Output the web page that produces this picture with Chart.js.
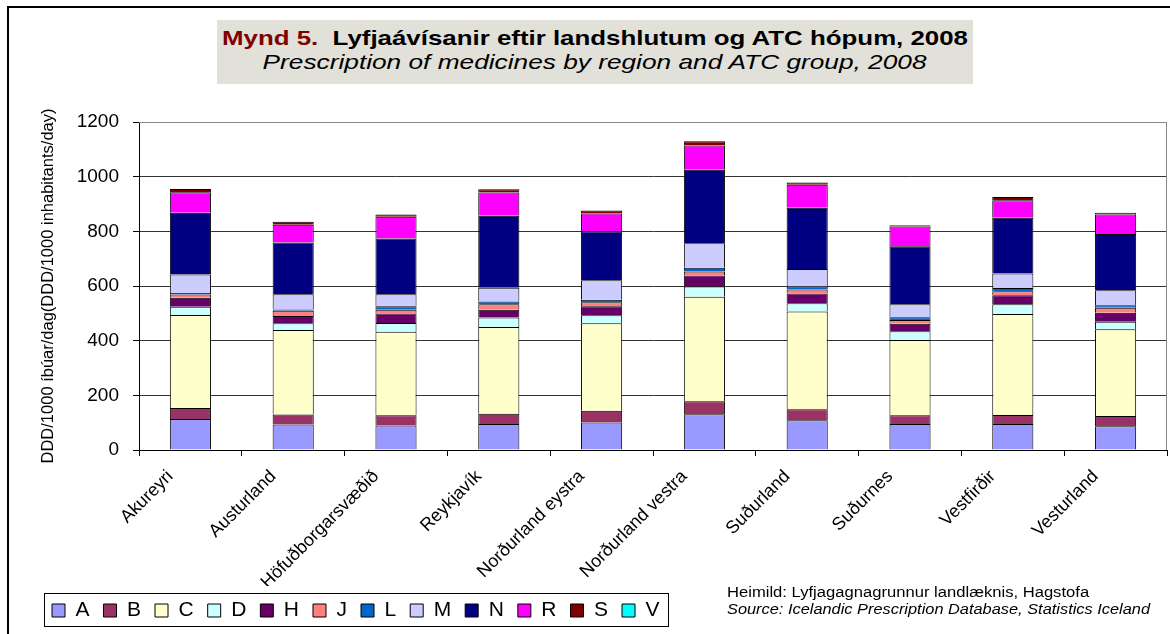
<!DOCTYPE html>
<html>
<head>
<meta charset="utf-8">
<script src="https://cdn.jsdelivr.net/npm/chart.js@4.4.1/dist/chart.umd.min.js"></script>
<style>
    body { margin: 0; background: #fff; }
    #wrap { position: relative; width: 1170px; height: 634px; overflow: hidden; font-family: 'Liberation Sans', Arial, sans-serif; }
    #frame { position: absolute; left: 7px; top: 6px; width: 1200px; height: 700px; border-left: 2px solid #000; border-top: 2px solid #000; }
    #chart { position: absolute; left: 0; top: 0; }
    #titleBox { position: absolute; left: 217px; top: 20px; width: 756px; height: 64px; background: #e1e1da; }
    .line { position: absolute; text-align: center; white-space: nowrap; }
    .line span.fit { display: inline-block; transform-origin: center center; }
    #t1 { font-size: 21px; font-weight: bold; color: #000; }
    #t1 .red { color: #800000; }
    #t2 { font-size: 21px; font-style: italic; color: #000; }
    #source { position: absolute; left: 727px; top: 584px; font-size: 14px; color: #000; white-space: nowrap; }
    #source span.fit { display: inline-block; transform-origin: left center; }
</style>
</head>
<body>
<div id="wrap">
    <div id="frame"></div>
    <canvas id="chart" width="1170" height="634"></canvas>
    <div id="titleBox"></div>
    <div class="line" id="t1" style="left:217px;width:756px;top:26px;line-height:24px;"><span class="fit" data-w="746"><span class="red">Mynd 5.</span>&nbsp; Lyfjaávísanir eftir landshlutum og ATC hópum, 2008</span></div>
    <div class="line" id="t2" style="left:217px;width:756px;top:50px;line-height:24px;"><span class="fit" data-w="664">Prescription of medicines by region and ATC group, 2008</span></div>
    <div id="source">
        <div style="line-height:17px;"><span class="fit" data-w="362">Heimild: Lyfjagagnagrunnur landlæknis, Hagstofa</span></div>
        <div style="line-height:17px;font-style:italic;"><span class="fit" data-w="423">Source: Icelandic Prescription Database, Statistics Iceland</span></div>
    </div>
</div>
<script>
// Regions (x axis categories)
const regions = ['Akureyri', 'Austurland', 'Höfuðborgarsvæðið', 'Reykjavík', 'Norðurland eystra',
    'Norðurland vestra', 'Suðurland', 'Suðurnes', 'Vestfirðir', 'Vesturland'];

// ATC groups, DDD/1000 inhabitants/day
const atcA = [113, 93, 90, 95, 101, 131, 109, 95, 95, 87];
const atcB = [41, 37, 37, 38, 43, 47, 40, 32, 33, 37];
const atcC = [340, 309, 306, 317, 320, 383, 358, 275, 370, 318];
const atcD = [30, 25, 32, 35, 29, 37, 30, 32, 35, 27];
const atcH = [33, 26, 34, 28, 33, 40, 36, 28, 33, 33];
const atcJ = [12, 19, 14, 20, 15, 15, 14, 14, 15, 18];
const atcL = [5, 5, 13, 10, 9, 14, 11, 10, 12, 10];
const atcM = [68, 56, 44, 51, 71, 89, 64, 47, 53, 54];
const atcN = [226, 189, 204, 263, 178, 269, 224, 212, 204, 206];
const atcR = [75, 65, 79, 85, 66, 89, 84, 73, 64, 72];
const atcS = [12, 11, 9, 12, 11, 16, 9, 4, 12, 6];
const atcV = [0, 0, 0, 0, 0, 0, 0, 0, 0, 0];

const groupNames = ['A', 'B', 'C', 'D', 'H', 'J', 'L', 'M', 'N', 'R', 'S', 'V'];
const groupValues = [atcA, atcB, atcC, atcD, atcH, atcJ, atcL, atcM, atcN, atcR, atcS, atcV];

// Excel default palette
const groupColors = ['#9999ff', '#993366', '#ffffcc', '#ccffff', '#660066', '#ff8080',
    '#0066cc', '#ccccff', '#000080', '#ff00ff', '#800000', '#00ffff'];

const fontFamily = "'Liberation Sans', Arial, sans-serif";

// stretch html text to the widths seen in the picture
document.querySelectorAll('span.fit').forEach(function(el) {
    const target = parseFloat(el.dataset.w);
    const w = el.getBoundingClientRect().width;
    if (w > 0) {
        el.style.transform = 'scaleX(' + (target / w).toFixed(3) + ')';
    }
});

// gray border on top/right of plot area and a box round the legend
const framePlugin = {
    id: 'plotFrame',
    afterDraw(chart) {
        const ctx = chart.ctx;
        const a = chart.chartArea;
        ctx.save();
        ctx.strokeStyle = '#888';
        ctx.lineWidth = 1;
        ctx.beginPath();
        ctx.moveTo(a.left, a.top + 0.5);
        ctx.lineTo(a.right - 0.5, a.top + 0.5);
        ctx.lineTo(a.right - 0.5, a.bottom);
        ctx.stroke();

        const boxes = chart.legend.legendHitBoxes;
        if (boxes && boxes.length) {
            let x0 = Infinity, y0 = Infinity, x1 = -Infinity, y1 = -Infinity;
            boxes.forEach(function(b) {
                x0 = Math.min(x0, b.left);
                y0 = Math.min(y0, b.top);
                x1 = Math.max(x1, b.left + b.width);
                y1 = Math.max(y1, b.top + b.height);
            });
            ctx.strokeStyle = '#000';
            ctx.strokeRect(Math.round(x0 - 8) + 0.5, Math.round(y0 - 7) + 0.5, Math.round(x1 - x0 + 16), Math.round(y1 - y0 + 12));
        }
        ctx.restore();
    }
};

const datasets = groupNames.map(function(name, i) {
    return {
        label: name,
        data: groupValues[i],
        backgroundColor: groupColors[i],
        borderColor: '#000000',
        borderWidth: 1,
        barPercentage: 0.4,
        categoryPercentage: 1.0
    };
});

new Chart(document.getElementById('chart'), {
    type: 'bar',
    data: {
        labels: regions,
        datasets: datasets
    },
    options: {
        responsive: false,
        animation: false,
        layout: {
            padding: { top: 122, right: 3, left: 38, bottom: 3 }
        },
        scales: {
            x: {
                stacked: true,
                grid: {
                    display: true,
                    drawOnChartArea: false,
                    color: '#000',
                    tickLength: 6
                },
                border: { color: '#000', width: 1 },
                ticks: {
                    color: '#000',
                    font: { family: fontFamily, size: 18 },
                    minRotation: 45,
                    maxRotation: 45,
                    labelOffset: -20,
                    padding: 10
                },
                afterFit: function(scale) {
                    scale.height = 136;
                }
            },
            y: {
                stacked: true,
                min: 0,
                max: 1200,
                grid: {
                    color: function(ctx) {
                        return ctx.tick && ctx.tick.value === 1200 ? '#888' : '#333';
                    },
                    tickColor: '#000',
                    tickLength: 6
                },
                border: { color: '#000', width: 1 },
                ticks: {
                    stepSize: 200,
                    color: '#000',
                    padding: 14,
                    font: { family: fontFamily, size: 19 },
                    callback: function(value) {
                        return String(value);
                    }
                },
                title: {
                    display: true,
                    text: 'DDD/1000 íbúar/dag(DDD/1000 inhabitants/day)',
                    color: '#000',
                    font: { family: fontFamily, size: 16.5 },
                    padding: { top: 1, bottom: 4 }
                },
                afterFit: function(scale) {
                    scale.width = 101;
                }
            }
        },
        plugins: {
            legend: {
                position: 'bottom',
                align: 'start',
                labels: {
                    color: '#000',
                    boxWidth: 13,
                    boxHeight: 13,
                    padding: 14,
                    font: { family: fontFamily, size: 21 }
                }
            },
            tooltip: { enabled: false }
        }
    },
    plugins: [framePlugin]
});
</script>
</body>
</html>
